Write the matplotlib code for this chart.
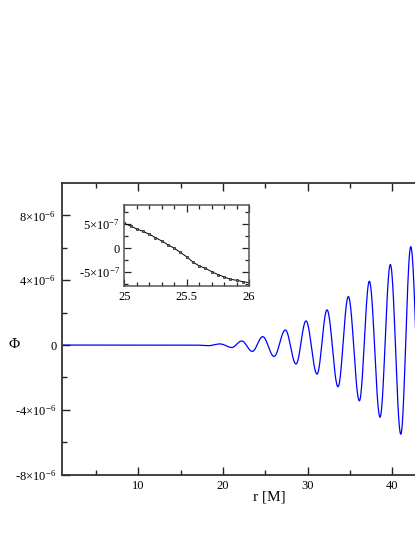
import numpy as np
import matplotlib
matplotlib.use("Agg")
import matplotlib.pyplot as plt
from matplotlib.ticker import FixedLocator, MultipleLocator, FuncFormatter

plt.rcParams["font.family"] = ["Liberation Serif", "DejaVu Serif"]
plt.rcParams["mathtext.fontset"] = "custom"
plt.rcParams["mathtext.rm"] = "Liberation Serif"
plt.rcParams["mathtext.it"] = "Liberation Serif:italic"
plt.rcParams["axes.unicode_minus"] = False

# main waveform: extrema, r [M] and Phi [1e-6]
r_ext = [1.0, 16.7, 18.24, 19.66, 21.04, 22.22, 23.47, 24.70, 26.04, 27.37, 28.63,
         29.81, 31.11, 32.29, 33.59, 34.81, 36.11, 37.29, 38.55, 39.77, 41.00,
         42.18, 43.45]
phi_ext = [0.0, 0.0, -0.04, 0.07, -0.15, 0.25, -0.39, 0.52, -0.70, 0.93, -1.17,
           1.49, -1.79, 2.17, -2.57, 2.99, -3.44, 3.94, -4.45, 4.97, -5.50,
           6.07, -6.10]

# inset samples, r [M] and Phi [1e-7]
r_zoom = [25.0, 25.05, 25.1, 25.15, 25.2, 25.25, 25.3, 25.35, 25.4, 25.45, 25.5,
          25.55, 25.6, 25.65, 25.7, 25.75, 25.8, 25.85, 25.9, 25.95, 26.0]
phi_zoom = [5.2, 4.6, 4.0, 3.5, 2.9, 2.2, 1.5, 0.7, 0.0, -0.9, -1.8,
            -2.9, -3.7, -4.2, -4.9, -5.5, -6.0, -6.5, -6.7, -7.0, -7.2]

y_major = [-8, -4, 0, 4, 8]
y_labels = ["-8×10$^{-6}$", "-4×10$^{-6}$", "0", "4×10$^{-6}$", "8×10$^{-6}$"]


def smooth_between(xs, ys, n=40):
    # half-cosine joins between successive extrema
    out_x, out_y = [], []
    for i in range(len(xs) - 1):
        t = np.linspace(0, 1, n, endpoint=False)
        x0, x1, y0, y1 = xs[i], xs[i + 1], ys[i], ys[i + 1]
        out_x.append(x0 + (x1 - x0) * t)
        out_y.append((y0 + y1) / 2 + (y0 - y1) / 2 * np.cos(np.pi * t))
    out_x.append([xs[-1]])
    out_y.append([ys[-1]])
    return np.concatenate(out_x), np.concatenate(out_y)


fig = plt.figure(figsize=(4.15, 5.37), dpi=100)
ax = fig.add_axes([0.1494, 0.116, 1.0, 0.5432])

rx, py = smooth_between(r_ext, phi_ext)
ax.plot(rx, np.array(py) * 1e-6, color="#0000ff", lw=0.9)

ax.set_xlim(1, 50)
ax.set_ylim(-8e-6, 10e-6)
ax.xaxis.set_major_locator(FixedLocator([10, 20, 30, 40]))
ax.xaxis.set_minor_locator(FixedLocator([5, 15, 25, 35, 45]))
ax.yaxis.set_major_locator(FixedLocator([v * 1e-6 for v in y_major]))
ax.yaxis.set_minor_locator(FixedLocator([v * 1e-6 for v in [-6, -2, 2, 6]]))
ax.yaxis.set_major_formatter(FuncFormatter(
    lambda v, p: y_labels[y_major.index(int(round(v * 1e6)))] if int(round(v * 1e6)) in y_major else ""))
ax.tick_params(which="both", direction="in", top=True, right=False, labelsize=9, width=1.0, color="#222222")
ax.tick_params(which="major", length=6, pad=4)
ax.tick_params(which="minor", length=3.5)
for s in ax.spines.values():
    s.set_linewidth(1.3)
    s.set_color("#333333")
ax.spines["right"].set_visible(False)

ax.set_xlabel("r [M]", fontsize=11)
ax.xaxis.set_label_coords(0.5, -0.055)
ax.set_ylabel("Φ", fontsize=11, rotation=0, va="center")
ax.yaxis.set_label_coords(-0.116, 0.445)

# inset
axi = fig.add_axes([0.2995, 0.4665, 0.3005, 0.1518])
axi.plot(r_zoom, np.array(phi_zoom) * 1e-7, color="black", lw=0.7,
         marker="s", ms=2.0, mfc="#777777", mec="#222222", mew=0.5)
axi.set_xlim(25, 26)
axi.set_ylim(-8e-7, 9e-7)
axi.xaxis.set_major_locator(FixedLocator([25, 25.5, 26]))
axi.xaxis.set_minor_locator(MultipleLocator(0.1))
axi.xaxis.set_major_formatter(FuncFormatter(lambda v, p: f"{v:g}"))
zl = {-5: "-5×10$^{-7}$", 0: "0", 5: "5×10$^{-7}$"}
axi.yaxis.set_major_locator(FixedLocator([-5e-7, 0, 5e-7]))
axi.yaxis.set_minor_locator(FixedLocator([-7.5e-7, -2.5e-7, 2.5e-7, 7.5e-7]))
axi.yaxis.set_major_formatter(FuncFormatter(lambda v, p: zl.get(int(round(v * 1e7)), "")))
axi.tick_params(which="both", direction="in", top=True, right=True, labelsize=9, width=0.9, color="#222222")
axi.tick_params(which="major", length=5, pad=3)
axi.tick_params(which="minor", length=3)
for s in axi.spines.values():
    s.set_linewidth(1.1)
    s.set_color("#555555")

fig.savefig("out.png", dpi=100)
